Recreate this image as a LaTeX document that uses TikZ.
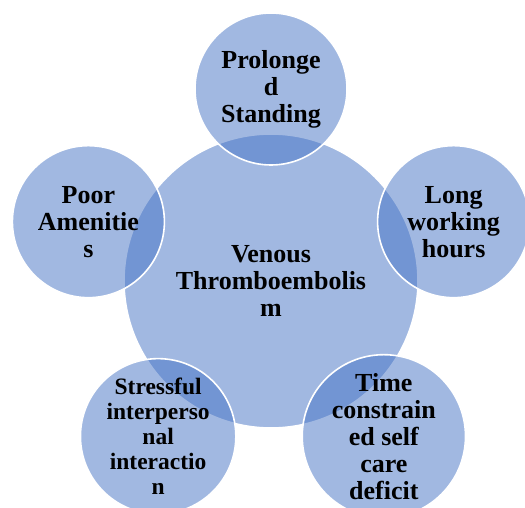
\documentclass[tikz,border=0pt]{standalone}
\usepackage{fontspec}
\setmainfont{Liberation Serif}
\usetikzlibrary{calc}
\definecolor{clrBub}{HTML}{4472C4}

\tikzset{
  bubble/.style={circle, fill=clrBub, fill opacity=0.5, text opacity=1,
                 draw=white, draw opacity=1, line width=1.6pt, inner sep=0pt,
                 align=center, font=\bfseries\fontsize{26}{27}\selectfont},
  hub/.style={bubble, minimum size=294pt},
  spoke/.style={bubble, minimum size=152pt}
}

\begin{document}
\begin{tikzpicture}[x=1pt, y=1pt]
  \useasboundingbox (0,0) rectangle (525,507);
  \clip (0,0) rectangle (525,507);
  \node[hub] (vte) at (271,226) {Venous\\Thromboembolis\\m};
  \node[spoke] (stand) at ($(vte)+(90:192pt)$) {Prolonge\\d\\Standing};
  \node[spoke] (hours) at ($(vte)+(18:192pt)$) {Long\\working\\hours};
  \node[spoke] (care) at ($(vte)+(-54:192pt)$) {Time\\constrain\\ed self\\care\\deficit};
  \node[spoke, font=\bfseries\fontsize{23.5}{25}\selectfont] (stress)
    at ($(vte)+(-126:192pt)$) {Stressful\\interperso\\nal\\interactio\\n};
  \node[spoke] (amen) at ($(vte)+(162:192pt)$) {Poor\\Amenitie\\s};
\end{tikzpicture}
\end{document}
